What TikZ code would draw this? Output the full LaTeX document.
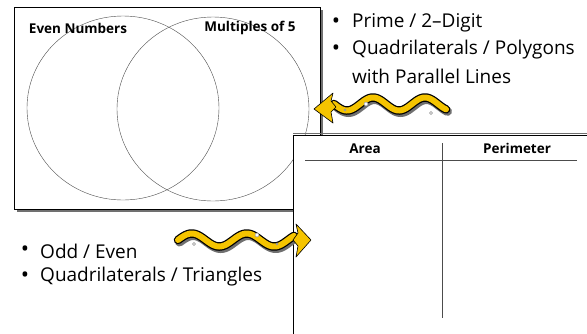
\documentclass[tikz,border=0pt]{standalone}
\usepackage{fontspec}
\setmainfont{Open Sans}
\usetikzlibrary{positioning}

\definecolor{arrowgold}{HTML}{F5C400}
\definecolor{shadowgrey}{HTML}{707070}

\tikzstyle{heading} = [font=\fontsize{13.5}{16}\selectfont\bfseries, inner sep=0pt]
\tikzstyle{item} = [font=\fontsize{19}{22}\selectfont, anchor=west, inner sep=0pt]
\tikzstyle{dot} = [font=\fontsize{22}{22}\selectfont, inner sep=0pt]
\tikzstyle{frame} = [draw=black, line width=0.9pt, fill=white]
\tikzstyle{ring} = [draw=black!70, line width=0.4pt]
\tikzstyle{bubble} = [draw=black!45, line width=0.4pt, fill=white]

\begin{document}
\begin{tikzpicture}[x=1pt, y=-1pt]
\useasboundingbox (0,0) rectangle (587,333);
%venn box
\fill[shadowgrey] (16.5,9.5) rectangle (323,212);
\draw[frame] (14,7) rectangle (320,209);
\coordinate (evenc) at (123,108);
\coordinate (fivec) at (213,109);
\draw[ring] (evenc) ellipse [x radius=96pt, y radius=92pt];
\draw[ring] (fivec) ellipse [x radius=96pt, y radius=92pt];
\node[heading] (even) at (78,28) {Even Numbers};
\node[heading] (five) at (250,28) {Multiples of 5};
%top arrow
\coordinate (toptip) at (314,109);
\draw[shadowgrey, line width=9pt, line cap=round] plot[domain=334:446, samples=80] ({\x+1.5}, {106+6.5*sin((\x-334)/52*360)});
\draw[black, line width=8.5pt, line cap=round] plot[domain=334:446, samples=80] (\x, {104+6.5*sin((\x-334)/52*360)});
\draw[arrowgold, line width=6pt, line cap=round] plot[domain=334:446, samples=80] (\x, {104+6.5*sin((\x-334)/52*360)});
\draw[black, fill=arrowgold, line width=0.6pt, line join=round] (toptip) -- (333,93) -- (331,101) -- (336,107) -- (331,112) -- (333,123) -- cycle;
\draw[bubble] (366,104) circle (2pt);
\draw[bubble] (345,110) circle (1pt);
\draw[bubble] (431,113) circle (1.5pt);
%table box
\draw[shadowgrey, line width=1.5pt] (293,133.5) -- (590,133.5);
\draw[frame] (293,135) rectangle (600,345);
\node[heading] (area) at (365,149) {Area};
\node[heading] (perim) at (517,148) {Perimeter};
\coordinate (headl) at (305,160);
\coordinate (headr) at (577,160);
\coordinate (colt) at (442,143);
\coordinate (colb) at (442,318);
\draw[black!70, line width=0.5pt] (headl) -- (headr);
\draw[black!70, line width=0.5pt] (colt) -- (colb);
%bottom arrow
\coordinate (bottip) at (311,240);
\draw[shadowgrey, line width=9pt, line cap=round] plot[domain=178:294, samples=80] ({\x+1.5}, {242-6.5*sin((\x-178)/55*360)});
\draw[black, line width=8.5pt, line cap=round] plot[domain=178:294, samples=80] (\x, {240-6.5*sin((\x-178)/55*360)});
\draw[arrowgold, line width=6pt, line cap=round] plot[domain=178:294, samples=80] (\x, {240-6.5*sin((\x-178)/55*360)});
\draw[black, fill=arrowgold, line width=0.6pt, line join=round] (bottip) -- (296,224) -- (298,233) -- (293,240) -- (298,246) -- (296,257) -- cycle;
\draw[bubble] (194,244) circle (1.5pt);
\draw[bubble] (257,235) circle (2pt);
\draw[bubble] (277,244) circle (1pt);
%bullets top right
\node[dot] (d1) at (336,23) {•};
\node[item] (prime) at (352,23) {Prime / 2--Digit};
\node[dot] (d2) at (336,50) {•};
\node[item] (quad) at (352,50) {Quadrilaterals / Polygons};
\node[item] (para) at (352,76) {with Parallel Lines};
%bullets bottom left
\node[dot] (d3) at (25,251) {•};
\node[item] (odd) at (40,251) {Odd / Even};
\node[dot] (d4) at (25,277) {•};
\node[item] (tri) at (40,277) {Quadrilaterals / Triangles};
\end{tikzpicture}
\end{document}
